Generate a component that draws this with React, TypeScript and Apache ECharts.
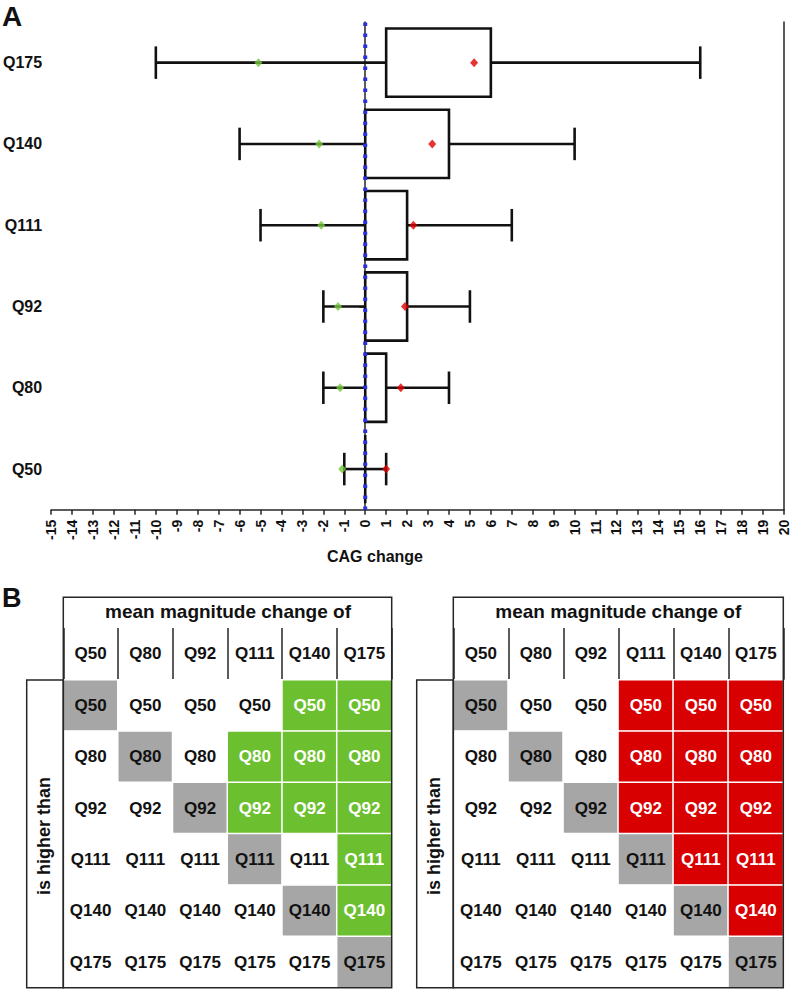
import React, { useEffect, useRef } from 'react';
import * as echarts from 'echarts';

// ---- Panel A data ----
const categories = ['Q50', 'Q80', 'Q92', 'Q111', 'Q140', 'Q175'];
const whiskerLow = [-1, -2, -2, -5, -6, -10];
const boxLow = [0, 0, 0, 0, 0, 1];
const boxHigh = [0, 1, 2, 2, 4, 6];
const whiskerHigh = [1, 4, 5, 7, 10, 16];
const greenMarker = [-1.1, -1.2, -1.3, -2.1, -2.2, -5.1];
const redMarker = [1.0, 1.7, 1.9, 2.3, 3.2, 5.2];
const referenceLineX = 0;
const xMin = -15;
const xMax = 20;
const xInterval = 1;

// ---- Panel B data: [rowIndex, columnIndex] of highlighted cells ----
const greenCells = [
  [0, 4], [0, 5],
  [1, 3], [1, 4], [1, 5],
  [2, 3], [2, 4], [2, 5],
  [3, 5],
  [4, 5],
];
const redCells = [
  [0, 3], [0, 4], [0, 5],
  [1, 3], [1, 4], [1, 5],
  [2, 3], [2, 4], [2, 5],
  [3, 4], [3, 5],
  [4, 5],
];

const FONT = '"Liberation Sans", Arial, Helvetica, sans-serif';
const INK = '#111';
const LINE = '#262626';
const GRAY = '#a6a6a6';
const GREEN = '#6cbf2e';
const RED = '#d80000';

function buildCells(sig: number[][], color: string) {
  const out: any[] = [];
  for (let r = 0; r < categories.length; r++) {
    for (let c = 0; c < categories.length; c++) {
      let fill = '#ffffff';
      let text = INK;
      let v = 0;
      if (r === c) {
        fill = GRAY;
        v = 1;
      } else if (sig.some(([a, b]) => a === r && b === c)) {
        fill = color;
        text = '#ffffff';
        v = 2;
      }
      out.push({ value: [c, r, v], itemStyle: { color: fill }, label: { color: text } });
    }
  }
  return out;
}

function tableAxes(gridIndex: number) {
  const x = {
    type: 'category',
    gridIndex,
    data: categories,
    position: 'top',
    axisLine: { show: true, lineStyle: { color: LINE, width: 1.5 } },
    axisTick: { show: true, length: 52, interval: 0, lineStyle: { color: LINE, width: 1.5 } },
    axisLabel: { interval: 0, fontSize: 17, fontWeight: 'bold', color: INK, margin: 18, fontFamily: FONT },
    splitLine: { show: false },
  };
  const y = {
    type: 'category',
    gridIndex,
    data: categories,
    inverse: true,
    show: false,
  };
  return { x, y };
}

function heatmapSeries(xi: number, yi: number, data: any[]) {
  return {
    type: 'heatmap',
    xAxisIndex: xi,
    yAxisIndex: yi,
    data,
    itemStyle: { borderColor: '#ffffff', borderWidth: 1.5 },
    label: {
      show: true,
      fontSize: 17,
      fontWeight: 'bold',
      fontFamily: FONT,
      formatter: (p: any) => categories[p.value[1]],
    },
    emphasis: { disabled: true },
    silent: true,
  };
}

export default function App() {
  const ref = useRef<HTMLDivElement>(null);

  useEffect(() => {
    if (!ref.current) return;
    const chart = echarts.init(ref.current, undefined, { renderer: 'svg' });

    const t1 = tableAxes(1);
    const t2 = tableAxes(2);

    const boxData = categories.map((c, i) => [i, whiskerLow[i], boxLow[i], boxHigh[i], whiskerHigh[i]]);

    const frameStyle = { fill: 'none', stroke: LINE, lineWidth: 1.5 };

    const option: any = {
      animation: false,
      backgroundColor: '#ffffff',
      textStyle: { fontFamily: FONT, fontWeight: 'bold' },
      grid: [
        { left: 51, top: 22, width: 733, height: 487.7 },
        { left: 63.3, top: 680, width: 328.4, height: 307.7 },
        { left: 453.3, top: 680, width: 330, height: 307.7 },
      ],
      visualMap: [
        {
          type: 'piecewise',
          show: false,
          seriesIndex: 3,
          dimension: 2,
          pieces: [
            { value: 0, color: '#ffffff' },
            { value: 1, color: GRAY },
            { value: 2, color: GREEN },
          ],
        },
        {
          type: 'piecewise',
          show: false,
          seriesIndex: 4,
          dimension: 2,
          pieces: [
            { value: 0, color: '#ffffff' },
            { value: 1, color: GRAY },
            { value: 2, color: RED },
          ],
        },
      ],
      xAxis: [
        {
          type: 'value',
          gridIndex: 0,
          min: xMin,
          max: xMax,
          interval: xInterval,
          axisLine: { show: true, onZero: false, lineStyle: { color: LINE, width: 1.5 } },
          axisTick: { show: true, length: 5, lineStyle: { color: LINE, width: 1.5 } },
          axisLabel: { rotate: 90, margin: 10, fontSize: 14, fontWeight: 'bold', color: INK, fontFamily: FONT },
          splitLine: { show: false },
        },
        t1.x,
        t2.x,
      ],
      yAxis: [
        {
          type: 'category',
          gridIndex: 0,
          data: categories,
          axisLine: { show: true, lineStyle: { color: LINE, width: 1.5 } },
          axisTick: { show: true, length: 6, alignWithLabel: true, lineStyle: { color: LINE, width: 1.5 } },
          axisLabel: { fontSize: 16, fontWeight: 'bold', color: INK, margin: 9, fontFamily: FONT },
          splitLine: { show: false },
        },
        {
          type: 'category',
          gridIndex: 0,
          data: categories,
          position: 'right',
          axisLine: { show: true, lineStyle: { color: LINE, width: 1.5 } },
          axisTick: { show: false },
          axisLabel: { show: false },
          splitLine: { show: false },
        },
        t1.y,
        t2.y,
      ],
      series: [
        {
          type: 'custom',
          xAxisIndex: 0,
          yAxisIndex: 0,
          z: 2,
          silent: true,
          data: boxData,
          encode: { y: 0, x: [1, 2, 3, 4] },
          renderItem: (params: any, api: any) => {
            const idx = api.value(0);
            const pWL = api.coord([api.value(1), idx]);
            const pBL = api.coord([api.value(2), idx]);
            const pBH = api.coord([api.value(3), idx]);
            const pWH = api.coord([api.value(4), idx]);
            const band = api.size([0, 1])[1];
            const boxH = band * 0.84;
            const capH = band * 0.4;
            const cy = pWL[1];
            const st = { stroke: INK, lineWidth: 2.6, fill: 'none' };
            return {
              type: 'group',
              children: [
                { type: 'line', shape: { x1: pWL[0], y1: cy, x2: pBL[0], y2: cy }, style: st },
                { type: 'line', shape: { x1: pBH[0], y1: cy, x2: pWH[0], y2: cy }, style: st },
                { type: 'line', shape: { x1: pWL[0], y1: cy - capH / 2, x2: pWL[0], y2: cy + capH / 2 }, style: st },
                { type: 'line', shape: { x1: pWH[0], y1: cy - capH / 2, x2: pWH[0], y2: cy + capH / 2 }, style: st },
                {
                  type: 'rect',
                  shape: { x: pBL[0], y: cy - boxH / 2, width: pBH[0] - pBL[0], height: boxH },
                  style: { stroke: INK, lineWidth: 2.6, fill: '#ffffff' },
                },
              ],
            };
          },
        },
        {
          type: 'scatter',
          xAxisIndex: 0,
          yAxisIndex: 0,
          z: 3,
          silent: true,
          symbol: 'diamond',
          symbolSize: [8, 9],
          itemStyle: { color: '#74c63c' },
          data: categories.map((c, i) => [greenMarker[i], c]),
        },
        {
          type: 'scatter',
          xAxisIndex: 0,
          yAxisIndex: 0,
          z: 3,
          silent: true,
          symbol: 'diamond',
          symbolSize: [8, 9],
          itemStyle: { color: '#e00000' },
          data: categories.map((c, i) => [redMarker[i], c]),
        },
        heatmapSeries(1, 2, buildCells(greenCells, GREEN)),
        heatmapSeries(2, 3, buildCells(redCells, RED)),
        {
          type: 'custom',
          xAxisIndex: 0,
          yAxisIndex: 0,
          z: 5,
          silent: true,
          data: [[referenceLineX, 0]],
          encode: { x: 0, y: 1 },
          renderItem: (params: any, api: any) => {
            const p = api.coord([api.value(0), 0]);
            const cs = params.coordSys;
            return {
              type: 'line',
              shape: { x1: p[0], y1: cs.y + 0.5, x2: p[0], y2: cs.y + cs.height },
              style: {
                stroke: '#2a2ee0',
                lineWidth: 4,
                lineDash: [3.6, 7.4],
                lineCap: 'butt',
                fill: 'none',
              },
            };
          },
        },
      ],
      graphic: [
        { type: 'text', x: 2, y: 16.5, z: 100, style: { text: 'A', font: `bold 28px ${FONT}`, fill: INK, align: 'left', verticalAlign: 'middle' } },
        { type: 'text', x: 2, y: 597.5, z: 100, style: { text: 'B', font: `bold 27px ${FONT}`, fill: INK, align: 'left', verticalAlign: 'middle' } },
        { type: 'text', x: 375, y: 556.7, z: 100, style: { text: 'CAG change', font: `bold 16px ${FONT}`, fill: INK, align: 'center', verticalAlign: 'middle' } },
        { type: 'text', x: 228, y: 611, z: 100, style: { text: 'mean magnitude change of', font: `bold 19px ${FONT}`, fill: INK, align: 'center', verticalAlign: 'middle' } },
        { type: 'text', x: 618.3, y: 611, z: 100, style: { text: 'mean magnitude change of', font: `bold 19px ${FONT}`, fill: INK, align: 'center', verticalAlign: 'middle' } },
        { type: 'text', x: 43.5, y: 836, rotation: Math.PI / 2, z: 100, style: { text: 'is higher than', font: `bold 18px ${FONT}`, fill: INK, align: 'center', verticalAlign: 'middle' } },
        { type: 'text', x: 433.5, y: 836, rotation: Math.PI / 2, z: 100, style: { text: 'is higher than', font: `bold 18px ${FONT}`, fill: INK, align: 'center', verticalAlign: 'middle' } },
        { type: 'rect', z: 100, shape: { x: 63.3, y: 597.3, width: 328.4, height: 390.4 }, style: frameStyle },
        { type: 'rect', z: 100, shape: { x: 26.7, y: 680, width: 36.6, height: 307.7 }, style: frameStyle },
        { type: 'rect', z: 100, shape: { x: 453.3, y: 597.3, width: 330, height: 390.4 }, style: frameStyle },
        { type: 'rect', z: 100, shape: { x: 416.7, y: 680, width: 36.6, height: 307.7 }, style: frameStyle },
      ],
    };

    chart.setOption(option);
    return () => chart.dispose();
  }, []);

  return (
    <div
      ref={ref}
      style={{ position: 'absolute', left: 0, top: 0, width: 793, height: 991, background: '#ffffff' }}
    />
  );
}
